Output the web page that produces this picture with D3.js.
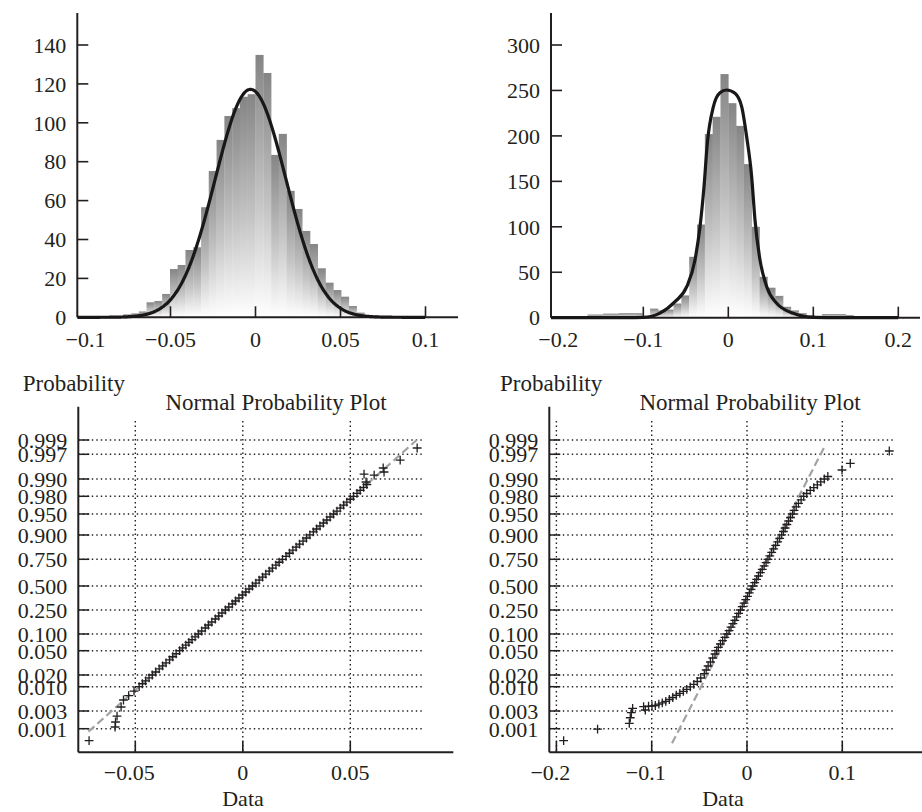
<!DOCTYPE html>
<html><head><meta charset="utf-8">
<script src="https://cdn.jsdelivr.net/npm/d3@7"></script>
<style>
body{margin:0;background:#fff;}
text{font-family:"Liberation Serif","DejaVu Serif",serif;fill:#231f20;}
</style></head>
<body>
<script>
// ---------------- DATA ----------------
// Top-left histogram (bin left edges, counts)
const histL_edges = [-0.0778,-0.0732,-0.0686,-0.0641,-0.0595,-0.0549,-0.0503,-0.0458,-0.0412,-0.0366,-0.0320,-0.0275,-0.0229,-0.0183,-0.0137,-0.0092,-0.0046,0,0.0046,0.0092,0.0137,0.0183,0.0229,0.0275,0.0320,0.0366,0.0412,0.0458,0.0503,0.0549,0.0595,0.0641,0.0686];
const histL_width = 0.004576;
const histL_counts = [1.5,2,3,7.7,8.4,12,24.8,26.9,34.6,36,56.6,75.2,91.2,103.5,107.5,113.4,114.7,134.9,125.6,83.5,94.3,65,55.7,44.4,37.7,25.2,17.8,14,10.6,5.8,2.4,1.2,0.8];
const fitL = {mu:-0.0029, sigma:0.0208, peak:117.2, from:-0.1047, to:0.1};
const histL_yTicks = [0,20,40,60,80,100,120,140];
const histL_xTicks = [-0.1,-0.05,0,0.05,0.1];

// Top-right histogram
const histR_edges = [-0.1656,-0.1564,-0.1472,-0.138,-0.1288,-0.1196,-0.1104,-0.1012,-0.092,-0.0828,-0.0736,-0.0644,-0.0552,-0.046,-0.0368,-0.0276,-0.0184,-0.0092,0,0.0092,0.0184,0.0276,0.0368,0.046,0.0552,0.0644,0.0736,0.0828,0.092,0.1012,0.1104,0.1196,0.1288,0.138];
const histR_width = 0.0092;
const histR_counts = [3.5,3.5,4.5,4.5,5,5,5,1,10,8,9,15.6,24.5,67,102.5,202,221,268,236,211,169,100,45,33,24,12,8,5,3,2,4,4,4,3];
const fitR_x = [-0.2086,-0.12,-0.1,-0.0804,-0.0627,-0.0489,-0.0392,-0.0333,-0.0286,-0.0247,-0.0176,-0.0098,-0.0019,0.0079,0.0158,0.0216,0.0275,0.0314,0.0373,0.0452,0.0569,0.0765,0.1,0.131,0.2];
const fitR_y = [0,0,0.3,5,17.6,34.1,63.5,100,144,191.8,232,247.5,250.5,246.8,232,199,155,107.5,63.5,34.1,15.8,4.8,0.3,0,0];
const histR_yTicks = [0,50,100,150,200,250,300];
const histR_xTicks = [-0.2,-0.1,0,0.1,0.2];

// Normal probability plots: probability tick labels
const probTicks = [0.001,0.003,0.01,0.02,0.05,0.1,0.25,0.5,0.75,0.9,0.95,0.98,0.99,0.997,0.999];
const probTickLabels = ["0.001","0.003","0.010","0.020","0.050","0.100","0.250","0.500","0.750","0.900","0.950","0.980","0.990","0.997","0.999"];

// Bottom-left: sorted data vs normal score
const npL_x = [-0.0715,-0.0594,-0.0592,-0.0585,-0.0566,
 -0.0555,-0.0531,-0.0506,-0.0482,-0.0467,-0.0452,-0.0436,-0.0421,
 -0.0405,-0.0389,-0.0373,-0.0357,-0.0341,-0.0326,-0.0310,-0.0294,
 -0.0280,-0.0265,-0.0251,-0.0236,-0.0222,-0.0207,
 -0.0191,-0.0175,-0.0160,-0.0144,-0.0128,-0.0112,-0.0097,-0.0081,
 -0.0065,-0.0049,-0.0034,-0.0018,-0.0002,0.0014,0.0029,0.0045,
 0.0061,0.0076,0.0092,0.0107,0.0123,0.0138,0.0154,0.0169,0.0185,
 0.0201,0.0217,0.0233,0.0248,0.0264,0.0280,0.0296,0.0312,
 0.0328,0.0343,0.0359,0.0375,0.0391,0.0406,0.0422,
 0.0438,0.0453,0.0469,0.0484,0.0500,0.0515,
 0.0531,0.0546,0.0562,0.0577,
 0.0573,0.0564,0.0611,0.0657,0.0653,0.0732,0.0811];
const npL_score = [-3.322,-3.057,-2.961,-2.845,-2.678,
 -2.557,-2.480,-2.403,-2.326,-2.258,-2.190,-2.122,-2.054,
 -2.003,-1.952,-1.900,-1.849,-1.798,-1.747,-1.696,-1.645,
 -1.584,-1.524,-1.463,-1.403,-1.342,-1.282,
 -1.206,-1.130,-1.054,-0.978,-0.902,-0.826,-0.750,-0.675,
 -0.590,-0.506,-0.422,-0.337,-0.253,-0.169,-0.084,0,
 0.075,0.150,0.225,0.300,0.375,0.450,0.525,0.600,0.675,
 0.750,0.826,0.902,0.978,1.054,1.130,1.206,1.282,
 1.334,1.385,1.437,1.489,1.541,1.593,1.645,
 1.713,1.781,1.849,1.918,1.986,2.054,
 2.100,2.147,2.193,2.240,
 2.279,2.411,2.394,2.446,2.514,2.650,2.899];
const refL_x = [-0.0718,0.0809];
const refL_score = [-3.148,3.090];

// Bottom-right
const npR_x = [-0.1924,-0.1568,-0.1235,-0.1225,-0.1214,-0.1200,-0.1085,-0.1067,-0.1033,-0.0997,
 -0.0962,-0.0925,-0.0889,-0.0852,-0.0815,-0.0779,-0.0742,-0.0705,-0.0668,-0.0632,-0.0595,-0.0558,-0.0522,-0.0485,-0.0448,
 -0.0428,-0.0408,-0.0384,-0.0359,-0.0336,-0.0318,
 -0.0301,-0.0279,-0.0256,-0.0232,-0.0212,
 -0.0188,-0.0168,-0.0148,-0.0128,-0.0108,-0.0088,-0.0069,
 -0.0050,-0.0031,-0.0013,0.0005,0.0024,0.0043,0.0061,
 0.0081,0.0101,0.0120,0.0140,0.0160,0.0180,0.0200,0.0220,
 0.0239,0.0259,0.0280,0.0301,0.0322,0.0343,0.0364,
 0.0382,0.0400,0.0418,0.0437,0.0457,0.0478,
 0.0494,0.0516,0.0540,0.0568,0.0595,
 0.0627,0.0664,0.0701,0.0738,0.0774,0.0811,0.0848,
 0.0997,0.1084,0.1493];
const npR_score = [-3.322,-3.10,-2.986,-2.878,-2.781,-2.701,-2.673,-2.730,-2.662,-2.661,
 -2.652,-2.630,-2.606,-2.581,-2.548,-2.514,-2.475,-2.441,-2.406,-2.371,-2.331,-2.270,-2.205,-2.124,-2.030,
 -1.970,-1.902,-1.835,-1.768,-1.700,-1.645,
 -1.573,-1.499,-1.427,-1.353,-1.282,
 -1.195,-1.108,-1.021,-0.935,-0.848,-0.761,-0.675,
 -0.578,-0.482,-0.385,-0.289,-0.193,-0.096,0,
 0.084,0.169,0.253,0.337,0.422,0.506,0.590,0.675,
 0.761,0.848,0.935,1.021,1.108,1.195,1.282,
 1.342,1.403,1.463,1.524,1.584,1.645,
 1.727,1.808,1.890,1.972,2.054,
 2.098,2.148,2.192,2.235,2.281,2.326,2.369,
 2.480,2.594,2.827];
const refR_x = [-0.0787,0.0822];
const refR_score = [-3.373,2.970];
const npL_xTicks = [-0.05,0,0.05];
const npR_xTicks = [-0.2,-0.1,0,0.1];

// ---------------- HELPERS ----------------
function norminv(p){
 const a=[-3.969683028665376e+01,2.209460984245205e+02,-2.759285104469687e+02,1.383577518672690e+02,-3.066479806614716e+01,2.506628277459239e+00];
 const b=[-5.447609879822406e+01,1.615858368580409e+02,-1.556989798598866e+02,6.680131188771972e+01,-1.328068155288572e+01];
 const c=[-7.784894002430293e-03,-3.223964580411365e-01,-2.400758277161838e+00,-2.549671348283594e+00,4.374664141464968e+00,2.938163982698783e+00];
 const d=[7.784695709041462e-03,3.224671290700398e-01,2.445134137142996e+00,3.754408661907416e+00];
 const pl=0.02425; let q,r;
 if(p<pl){q=Math.sqrt(-2*Math.log(p));return (((((c[0]*q+c[1])*q+c[2])*q+c[3])*q+c[4])*q+c[5])/((((d[0]*q+d[1])*q+d[2])*q+d[3])*q+1);}
 if(p<=1-pl){q=p-0.5;r=q*q;return (((((a[0]*r+a[1])*r+a[2])*r+a[3])*r+a[4])*r+a[5])*q/(((((b[0]*r+b[1])*r+b[2])*r+b[3])*r+b[4])*r+1);}
 q=Math.sqrt(-2*Math.log(1-p));return -(((((c[0]*q+c[1])*q+c[2])*q+c[3])*q+c[4])*q+c[5])/((((d[0]*q+d[1])*q+d[2])*q+d[3])*q+1);
}
const fmt = v => { const s = String(Math.abs(v)); return (v<0?"\u2212":"") + s; };
const INK = "#231f20";

const svg = d3.select("body").append("svg").attr("width",922).attr("height",812);
const defs = svg.append("defs");
const g = defs.append("linearGradient").attr("id","barGrad").attr("x1",0).attr("y1",0).attr("x2",0).attr("y2",1);
g.append("stop").attr("offset",0).attr("stop-color","#858585");
g.append("stop").attr("offset",0.55).attr("stop-color","#c4c4c4");
g.append("stop").attr("offset",1).attr("stop-color","#ffffff");

// ---------------- HISTOGRAM PANEL ----------------
function histPanel(o){
 const x = d3.scaleLinear().domain(o.xDom).range(o.xRange);
 const y = d3.scaleLinear().domain(o.yDom).range(o.yRange);
 const G = svg.append("g");
 G.selectAll("rect.bar").data(o.edges).join("rect").attr("class","bar")
  .attr("x",(d)=>x(d)).attr("width",d=>x(d+o.width)-x(d)+0.3)
  .attr("y",(d,i)=>y(o.counts[i])).attr("height",(d,i)=>y(0)-y(o.counts[i]))
  .attr("fill","url(#barGrad)");
 G.append("line").attr("x1",o.axisX).attr("x2",o.axisX).attr("y1",o.axisTop).attr("y2",y(0)).attr("stroke",INK).attr("stroke-width",2);
 G.append("line").attr("x1",o.axisX).attr("x2",o.axisRight).attr("y1",y(0)).attr("y2",y(0)).attr("stroke",INK).attr("stroke-width",2);
 o.yTicks.forEach(v=>{
  if(v!==0) G.append("line").attr("x1",o.axisX).attr("x2",o.axisX+11).attr("y1",y(v)).attr("y2",y(v)).attr("stroke",INK).attr("stroke-width",1.6);
  G.append("text").attr("x",o.axisX-11).attr("y",y(v)).attr("dy","0.35em").attr("text-anchor","end").attr("font-size",22).text(String(v));
 });
 o.xTicks.forEach((v,i)=>{
  if(i>0) G.append("line").attr("x1",x(v)).attr("x2",x(v)).attr("y1",y(0)).attr("y2",y(0)-11).attr("stroke",INK).attr("stroke-width",1.6);
  G.append("text").attr("x",x(v)).attr("y",347).attr("text-anchor","middle").attr("font-size",22).text(fmt(v));
 });
 G.append("path").datum(o.curve).attr("fill","none").attr("stroke","#1a1718").attr("stroke-width",3.2)
  .attr("stroke-linejoin","round")
  .attr("d", d3.line().x(d=>x(d[0])).y(d=>y(d[1])).curve(d3.curveMonotoneX));
}

const curveL = d3.range(fitL.from, fitL.to+1e-9, 0.0005).map(v=>[v, fitL.peak*Math.exp(-0.5*Math.pow((v-fitL.mu)/fitL.sigma,2))]);
histPanel({xDom:[-0.1,0.1], xRange:[85.5,425.5], yDom:[0,140], yRange:[317.3,45],
 edges:histL_edges, width:histL_width, counts:histL_counts, axisX:77.3, axisTop:13, axisRight:458,
 yTicks:histL_yTicks, xTicks:histL_xTicks, curve:curveL});
histPanel({xDom:[-0.2,0.2], xRange:[558.3,898.3], yDom:[0,300], yRange:[317.7,45],
 edges:histR_edges, width:histR_width, counts:histR_counts, axisX:551, axisTop:13, axisRight:920,
 yTicks:histR_yTicks, xTicks:histR_xTicks, curve:fitR_x.map((v,i)=>[v,fitR_y[i]])});

// ---------------- NORMAL PROBABILITY PANELS ----------------
const probTickY = [728.7,711,686.7,675,650.7,634,610,586,559.3,535,514,496.3,479,454.3,440]; // layout of the probability axis
const yProb = d3.scaleLinear().domain(probTicks.map(norminv)).range(probTickY);

function probPanel(o){
 const x = d3.scaleLinear().domain(o.xDom).range(o.xRange);
 const G = svg.append("g");
 const axY = 752.3, gridTop = 421;
 probTicks.forEach((p,i)=>{
  const yy = yProb(norminv(p));
  G.append("line").attr("x1",o.axisX).attr("x2",o.gridRight).attr("y1",yy).attr("y2",yy)
   .attr("stroke",INK).attr("stroke-width",1.4).attr("stroke-dasharray","1.4,3.1");
  G.append("line").attr("x1",o.axisX).attr("x2",o.axisX+11).attr("y1",yy).attr("y2",yy).attr("stroke",INK).attr("stroke-width",1.5);
  G.append("text").attr("x",o.axisX-11).attr("y",yy).attr("dy","0.36em").attr("text-anchor","end").attr("font-size",22).text(probTickLabels[i]);
 });
 o.xTicks.forEach(v=>{
  const xx = x(v);
  if(xx > o.axisX+3){
   G.append("line").attr("x1",xx).attr("x2",xx).attr("y1",gridTop).attr("y2",axY)
    .attr("stroke",INK).attr("stroke-width",1.4).attr("stroke-dasharray","1.4,3.1");
   G.append("line").attr("x1",xx).attr("x2",xx).attr("y1",axY).attr("y2",axY-11).attr("stroke",INK).attr("stroke-width",1.6);
  }
  G.append("text").attr("x",xx-(v<0?6:0)).attr("y",780).attr("text-anchor","middle").attr("font-size",22).text(fmt(v));
 });
 G.append("line").attr("x1",o.axisX).attr("x2",o.axisX).attr("y1",406.7).attr("y2",axY).attr("stroke",INK).attr("stroke-width",2);
 G.append("line").attr("x1",o.axisX).attr("x2",o.axisRight).attr("y1",axY).attr("y2",axY).attr("stroke",INK).attr("stroke-width",2);
 G.append("line").attr("x1",x(o.refX[0])).attr("y1",yProb(o.refS[0])).attr("x2",x(o.refX[1])).attr("y2",yProb(o.refS[1]))
  .attr("stroke","#a3a3a3").attr("stroke-width",2.2).attr("stroke-dasharray","8,4");
 G.selectAll("path.pt").data(o.px).join("path").attr("class","pt")
  .attr("transform",(d,i)=>`translate(${x(d)},${yProb(o.ps[i])})`)
  .attr("d","M-4.4,0H4.4M0,-4.4V4.4").attr("stroke",INK).attr("stroke-width",1.3).attr("fill","none");
 G.append("text").attr("x",o.probLabelX).attr("y",391).attr("font-size",23).text("Probability");
 G.append("text").attr("x",o.titleX).attr("y",410).attr("text-anchor","middle").attr("font-size",23).text("Normal Probability Plot");
 G.append("text").attr("x",o.dataX).attr("y",806).attr("text-anchor","middle").attr("font-size",22).text("Data");
}

probPanel({xDom:[-0.05,0.05], xRange:[135.3,350.3], axisX:78.3, gridRight:421.7, axisRight:453.3,
 xTicks:npL_xTicks, refX:refL_x, refS:refL_score, px:npL_x, ps:npL_score,
 probLabelX:22.7, titleX:276, dataX:243});
probPanel({xDom:[-0.1,0.1], xRange:[651.7,842.3], axisX:549.3, gridRight:893.3, axisRight:922,
 xTicks:npR_xTicks, refX:refR_x, refS:refR_score, px:npR_x, ps:npR_score,
 probLabelX:500, titleX:750, dataX:723});
</script>
</body></html>
